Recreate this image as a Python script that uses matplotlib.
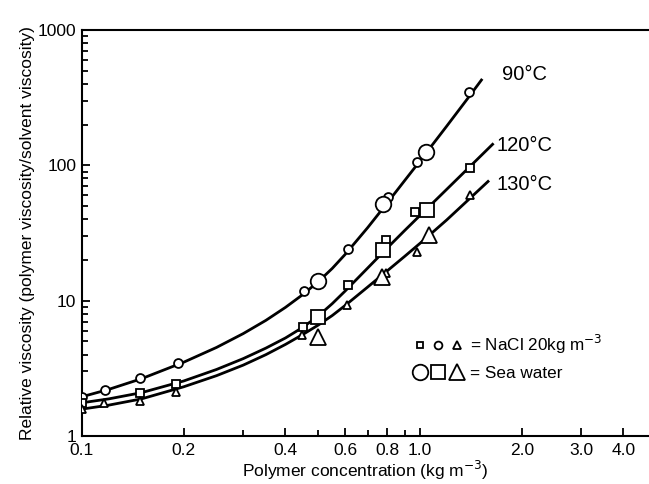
import matplotlib
matplotlib.use('Agg')
import matplotlib.pyplot as plt
from matplotlib.legend_handler import HandlerTuple
from matplotlib.ticker import FixedLocator, NullFormatter, LogLocator

plt.rcParams['font.family'] = ['Liberation Sans', 'DejaVu Sans']

# fitted curves
curve_x = [0.1, 0.12, 0.15, 0.2, 0.25, 0.3, 0.35, 0.4, 0.45, 0.5, 0.55, 0.6, 0.7, 0.8, 0.9, 1.0, 1.2, 1.4]
curve_90 = [1.95, 2.21, 2.65, 3.51, 4.51, 5.71, 7.15, 8.92, 11.09, 13.8, 17.3, 21.9, 34.6, 52.7, 76.9, 107.7, 194.9, 324]
curve_120 = [1.76, 1.88, 2.09, 2.55, 3.1, 3.73, 4.46, 5.3, 6.35, 7.7, 9.5, 11.75, 17.4, 24.5, 32.9, 42.6, 66.5, 97]
curve_130 = [1.58, 1.69, 1.88, 2.31, 2.79, 3.34, 3.99, 4.75, 5.62, 6.6, 7.76, 9.19, 12.6, 16.6, 21.2, 26.5, 39.5, 56.5]
end_x = [1.52, 1.64, 1.59]
end_y = [427, 143, 76]

# NaCl 20 kg m-3 (small symbols)
nacl_90_x = [0.1, 0.117, 0.148, 0.192, 0.454, 0.614, 0.802, 0.978, 1.397]
nacl_90_y = [1.95, 2.2, 2.67, 3.45, 11.7, 24.1, 58.5, 105, 347]
nacl_120_x = [0.1, 0.148, 0.19, 0.45, 0.614, 0.795, 0.97, 1.406]
nacl_120_y = [1.74, 2.07, 2.42, 6.43, 13.1, 28.1, 45, 95]
nacl_130_x = [0.1, 0.116, 0.148, 0.19, 0.448, 0.61, 0.795, 0.98, 1.406]
nacl_130_y = [1.57, 1.74, 1.82, 2.13, 5.58, 9.3, 15.9, 23.0, 60.4]

# sea water (large symbols)
sea_90_x = [0.5, 0.779, 1.045]
sea_90_y = [14.0, 52, 126]
sea_120_x = [0.5, 0.779, 1.05]
sea_120_y = [7.54, 23.7, 46.8]
sea_130_x = [0.5, 0.77, 1.06]
sea_130_y = [5.4, 15.0, 30.6]

x_ticks = [0.1, 0.2, 0.4, 0.6, 0.8, 1.0, 2.0, 3.0, 4.0]
x_ticklabels = ['0.1', '0.2', '0.4', '0.6', '0.8', '1.0', '2.0', '3.0', '4.0']
x_minor = [0.3, 0.5, 0.7, 0.9]
y_ticks = [1, 10, 100, 1000]
y_ticklabels = ['1', '10', '100', '1000']

fig = plt.figure(figsize=(6.49, 4.84), dpi=100)
ax = fig.add_axes([0.1263, 0.0992, 0.8737, 0.8388])
ax.set_xscale('log')
ax.set_yscale('log')
ax.set_xlim(0.1, 4.76)
ax.set_ylim(1, 1000)

for ys, xe, ye in zip([curve_90, curve_120, curve_130], end_x, end_y):
    ax.plot(curve_x + [xe], ys + [ye], color='black', lw=2.0, zorder=2,
            solid_joinstyle='round')

ms_s, ms_l, mew = 6.4, 11.2, 1.3
kw = dict(linestyle='none', mfc='white', mec='black', mew=mew, zorder=3)
ax.plot(nacl_90_x, nacl_90_y, marker='o', ms=ms_s, **kw)
ax.plot(nacl_120_x, nacl_120_y, marker='s', ms=ms_s - 1.2, **kw)
ax.plot(nacl_130_x, nacl_130_y, marker='^', ms=ms_s, **kw)
h_ci_l, = ax.plot(sea_90_x, sea_90_y, marker='o', ms=ms_l, **kw)
h_sq_l, = ax.plot(sea_120_x, sea_120_y, marker='s', ms=ms_l - 1.5, **kw)
h_tr_l, = ax.plot(sea_130_x, sea_130_y, marker='^', ms=ms_l + 1, **kw)
h_ci_s = ax.plot([], [], marker='o', ms=ms_s - 0.8, **kw)[0]
h_sq_s = ax.plot([], [], marker='s', ms=ms_s - 1.6, **kw)[0]
h_tr_s = ax.plot([], [], marker='^', ms=ms_s - 0.6, **kw)[0]

ax.text(1.748, 466, '90°C', fontsize=14.5, ha='left', va='center')
ax.text(1.69, 141, '120°C', fontsize=14.5, ha='left', va='center')
ax.text(1.69, 72, '130°C', fontsize=14.5, ha='left', va='center')

ax.legend([(h_sq_s, h_ci_s, h_tr_s), (h_ci_l, h_sq_l, h_tr_l)],
          ['= NaCl 20kg m$^{-3}$', '= Sea water'],
          handler_map={tuple: HandlerTuple(ndivide=None, pad=0.15)},
          loc='center left', bbox_to_anchor=(0.567, 0.195),
          frameon=False, fontsize=12.3, handlelength=3.1,
          handletextpad=0.3, labelspacing=0.62, borderpad=0)

ax.xaxis.set_major_locator(FixedLocator(x_ticks))
ax.set_xticklabels(x_ticklabels)
ax.xaxis.set_minor_locator(FixedLocator(x_minor))
ax.xaxis.set_minor_formatter(NullFormatter())
ax.yaxis.set_major_locator(FixedLocator(y_ticks))
ax.set_yticklabels(y_ticklabels)
ax.yaxis.set_minor_locator(LogLocator(base=10, subs=[2, 3, 4, 5, 6, 7, 8, 9], numticks=20))
ax.yaxis.set_minor_formatter(NullFormatter())
ax.tick_params(which='both', direction='in', width=1.3, labelsize=12.5)
ax.tick_params(which='major', length=6)
ax.tick_params(which='minor', length=4.5)
ax.tick_params(axis='x', pad=5)
ax.tick_params(axis='y', pad=4)

for s in ['left', 'bottom', 'top']:
    ax.spines[s].set_linewidth(1.5)
ax.spines['right'].set_visible(False)

ax.set_xlabel('Polymer concentration (kg m$^{-3}$)', fontsize=12.5, labelpad=1)
ax.set_ylabel('Relative viscosity (polymer viscosity/solvent viscosity)', fontsize=12.5, labelpad=2)

fig.savefig('out.png', dpi=100)
